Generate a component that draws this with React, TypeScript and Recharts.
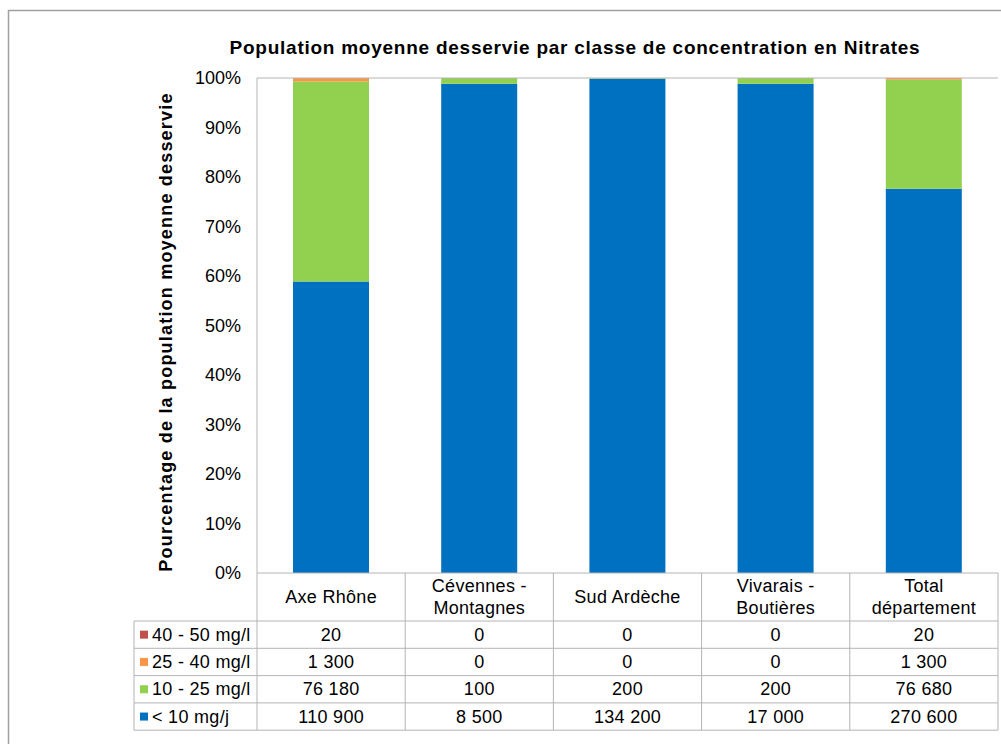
import React from 'react';
import { BarChart, Bar, XAxis, YAxis, ReferenceLine } from 'recharts';

const categories = ['Axe Rhône', 'Cévennes - Montagnes', 'Sud Ardèche', 'Vivarais - Boutières', 'Total département'];
const categoryLines = [['Axe Rhône'], ['Cévennes -', 'Montagnes'], ['Sud Ardèche'], ['Vivarais -', 'Boutières'], ['Total', 'département']];
const lt10 = [110900, 8500, 134200, 17000, 270600];
const c10to25 = [76180, 100, 200, 200, 76680];
const c25to40 = [1300, 0, 0, 0, 1300];
const c40to50 = [20, 0, 0, 0, 20];
const seriesKeys = ['lt10', 'c10to25', 'c25to40', 'c40to50'];
const seriesNames = ['< 10 mg/j', '10 - 25 mg/l', '25 - 40 mg/l', '40 - 50 mg/l'];
const seriesColors = ['#0070C0', '#92D050', '#F79646', '#C0504D'];
const seriesValues = [lt10, c10to25, c25to40, c40to50];
const yTicks = [0, 0.1, 0.2, 0.3, 0.4, 0.5, 0.6, 0.7, 0.8, 0.9, 1];
const title = 'Population moyenne desservie par classe de concentration en Nitrates';
const yLabel = 'Pourcentage de la population moyenne desservie';

const data = categories.map((c, i) => ({
  name: c,
  lt10: lt10[i],
  c10to25: c10to25[i],
  c25to40: c25to40[i],
  c40to50: c40to50[i],
}));

const W = 1001;
const H = 744;
const plotLeft = 257;
const plotRight = 998;
const plotTop = 78;
const plotBottom = 573;
const headerH = 48;
const rowH = 27.3;
const legendLeft = 134;
const tableTop = plotBottom + headerH;
const tableRows = [3, 2, 1, 0];
const tableBottom = tableTop + rowH * tableRows.length;
const gridColor = '#b4b4b4';
const FONT = '"Liberation Sans", Arial, sans-serif';
const FS = 18;
const LS = 0.3;

const fmt = (n: number) => n.toString().replace(/\B(?=(\d{3})+(?!\d))/g, ' ');

const TableTick = (props: any) => {
  const { x, index } = props;
  const bw = (plotRight - plotLeft) / categories.length;
  const right = x + bw / 2;
  const lines = categoryLines[index] || [];
  const hc = plotBottom + headerH / 2;
  return (
    <g>
      <line x1={right} y1={plotBottom} x2={right} y2={tableBottom} stroke={gridColor} strokeWidth={1} />
      {lines.map((l, k) => (
        <text
          key={k}
          x={x}
          y={hc + (k - (lines.length - 1) / 2) * 22}
          textAnchor="middle"
          dominantBaseline="central"
          fontFamily={FONT}
          fontSize={FS}
          letterSpacing={LS}
          fill="#000"
        >
          {l}
        </text>
      ))}
      {tableRows.map((s, r) => (
        <text
          key={'v' + r}
          x={x}
          y={tableTop + rowH * (r + 0.5)}
          textAnchor="middle"
          dominantBaseline="central"
          fontFamily={FONT}
          fontSize={FS}
          letterSpacing={LS}
          fill="#000"
        >
          {fmt(seriesValues[s][index])}
        </text>
      ))}
    </g>
  );
};

export default function App() {
  return (
    <div style={{ position: 'absolute', left: 0, top: 0, width: W, height: H, overflow: 'hidden', background: '#fff' }}>
      <div style={{ position: 'absolute', left: 0, top: 0 }}>
        <BarChart
          width={W}
          height={H}
          data={data}
          stackOffset="expand"
          margin={{ top: plotTop, right: W - plotRight, bottom: H - plotBottom - 157, left: plotLeft - 60 }}
        >
          <XAxis
            dataKey="name"
            height={157}
            interval={0}
            tickSize={0}
            tickMargin={0}
            axisLine={{ stroke: gridColor }}
            tickLine={false}
            tick={<TableTick />}
          />
          <YAxis
            width={60}
            domain={[0, 1]}
            ticks={yTicks}
            tickSize={0}
            tickMargin={16}
            tickLine={false}
            axisLine={{ stroke: gridColor }}
            tickFormatter={(v: number) => `${Math.round(v * 100)}%`}
            tick={{ fontFamily: FONT, fontSize: FS, fill: '#000' }}
            interval={0}
          />
          <ReferenceLine y={1} stroke={gridColor} strokeWidth={1} />
          {seriesKeys.map((k, i) => (
            <Bar
              key={k}
              dataKey={k}
              name={seriesNames[i]}
              stackId="a"
              fill={seriesColors[i]}
              barSize={76}
              isAnimationActive={false}
            />
          ))}
        </BarChart>
      </div>
      <svg width={W} height={H} style={{ position: 'absolute', left: 0, top: 0, pointerEvents: 'none' }}>
        <rect x={8.5} y={10.5} width={1200} height={1000} fill="none" stroke="#a0a0a0" strokeWidth={1.5} />
        <text x={575} y={47} textAnchor="middle" dominantBaseline="central" fontFamily={FONT} fontSize={19} letterSpacing={0.75} fontWeight="bold" fill="#000">
          {title}
        </text>
        <text
          x={166}
          y={332}
          transform="rotate(-90 166 332)"
          textAnchor="middle"
          dominantBaseline="central"
          fontFamily={FONT}
          fontSize={18}
          letterSpacing={1.2}
          fontWeight="bold"
          fill="#000"
        >
          {yLabel}
        </text>
        <line x1={plotLeft} y1={plotBottom} x2={plotLeft} y2={tableBottom} stroke={gridColor} />
        <line x1={legendLeft} y1={tableTop} x2={legendLeft} y2={tableBottom} stroke={gridColor} />
        {[0, 1, 2, 3, 4].map((r) => (
          <line key={r} x1={legendLeft} y1={tableTop + rowH * r} x2={plotRight} y2={tableTop + rowH * r} stroke={gridColor} />
        ))}
        {tableRows.map((s, r) => {
          const cy = tableTop + rowH * (r + 0.5);
          return (
            <g key={s}>
              <rect x={140} y={cy - 4} width={8} height={8} fill={seriesColors[s]} />
              <text x={152} y={cy} dominantBaseline="central" fontFamily={FONT} fontSize={FS} letterSpacing={LS} fill="#000">
                {seriesNames[s]}
              </text>
            </g>
          );
        })}
      </svg>
    </div>
  );
}
